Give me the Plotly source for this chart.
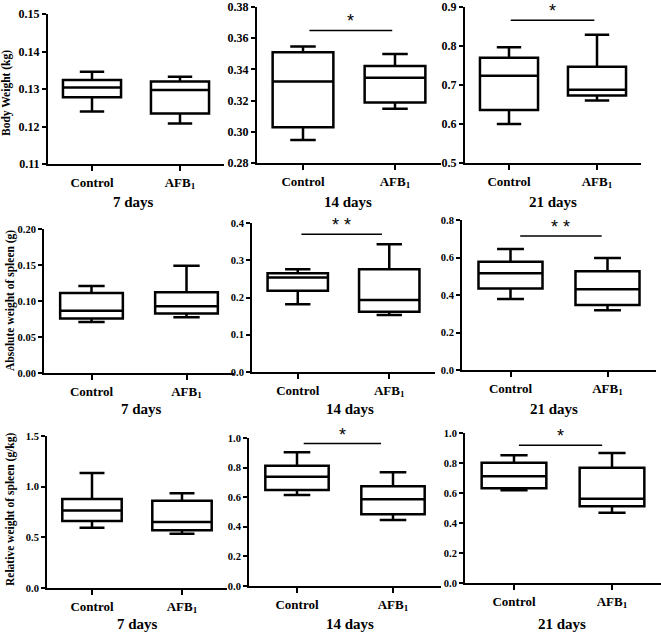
import plotly.graph_objects as go

W, H = 661, 635

groups = ["Control", "AFB<sub>1</sub>"]
days = ["7 days", "14 days", "21 days"]
ytitles = ["Body Weight (kg)", "Absolute weight of spleen (g)", "Relative weight of spleen (g/kg)"]

# Box statistics: one row per day (7, 14, 21), each row = [Control, AFB1]
body_min = [[0.1240, 0.1208], [0.2948, 0.3147], [0.600, 0.660]]
body_q1 = [[0.1278, 0.1235], [0.3029, 0.3188], [0.636, 0.673]]
body_med = [[0.1304, 0.1297], [0.3323, 0.3347], [0.7235, 0.688]]
body_q3 = [[0.1324, 0.1320], [0.3510, 0.3421], [0.770, 0.747]]
body_max = [[0.1346, 0.1333], [0.3546, 0.3499], [0.797, 0.829]]

abs_min = [[0.071, 0.0775], [0.1816, 0.153], [0.379, 0.318]]
abs_q1 = [[0.0756, 0.0826], [0.218, 0.162], [0.434, 0.347]]
abs_med = [[0.0863, 0.0928], [0.2535, 0.193], [0.516, 0.430]]
abs_q3 = [[0.111, 0.112], [0.265, 0.276], [0.578, 0.526]]
abs_max = [[0.121, 0.149], [0.276, 0.343], [0.645, 0.597]]

rel_min = [[0.595, 0.536], [0.615, 0.446], [0.619, 0.469]]
rel_q1 = [[0.661, 0.569], [0.649, 0.484], [0.631, 0.511]]
rel_med = [[0.766, 0.651], [0.738, 0.586], [0.712, 0.562]]
rel_q3 = [[0.878, 0.862], [0.812, 0.674], [0.801, 0.768]]
rel_max = [[1.135, 0.934], [0.903, 0.769], [0.852, 0.867]]

metrics = [
    (body_min, body_q1, body_med, body_q3, body_max),
    (abs_min, abs_q1, abs_med, abs_q3, abs_max),
    (rel_min, rel_q1, rel_med, rel_q3, rel_max),
]

# y axis ranges / tick steps per panel (row-major)
y_ranges = [[0.11, 0.15], [0.28, 0.38], [0.5, 0.9],
            [0.0, 0.2], [0.0, 0.4], [0.0, 0.8],
            [0.0, 1.5], [0.0, 1.0], [0.0, 1.0]]
y_dticks = [0.01, 0.02, 0.1, 0.05, 0.1, 0.2, 0.5, 0.2, 0.2]
y_formats = [".2f", ".2f", ".1f", ".2f", ".1f", ".1f", ".1f", ".1f", ".1f"]

# significance markers (panel index, label, line height, x-extent)
sig_panel = [1, 2, 4, 5, 7, 8]
sig_label = ["*", "*", "* *", "* *", "*", "*"]
sig_y = [0.365, 0.866, 0.370, 0.715, 0.962, 0.918]
sig_x0 = [0.07, 0.02, 0.04, 0.10, 0.07, 0.05]
sig_x1 = [0.97, 0.97, 0.92, 0.94, 0.875, 0.90]

# panel pixel geometry: left, right, top, bottom
geom = [(48, 224, 14, 164), (257, 441, 7, 163), (465, 641, 7, 163),
        (44, 234, 229, 373), (252, 435, 223, 372), (462, 656, 220, 370),
        (47, 227, 436, 588), (249, 441, 438, 586), (465, 661, 433, 583)]
day_label_pos = [(133, 202), (348, 202), (553, 202),
                 (141, 409), (350, 409), (554, 409),
                 (137, 624), (350, 624), (562, 624)]
ytitle_pos = [(7, 93), (10, 301), (10, 510)]
ytick_size = [12, 10.5, 10.5]

FONT = "Liberation Serif"
fig = go.Figure()

for p in range(9):
    r, c = divmod(p, 3)
    mn, q1, md, q3, mx = metrics[r]
    ax = "" if p == 0 else str(p + 1)
    for g in range(2):
        fig.add_trace(go.Box(
            x=[g], q1=[q1[c][g]], median=[md[c][g]], q3=[q3[c][g]],
            lowerfence=[mn[c][g]], upperfence=[mx[c][g]],
            width=0.66, whiskerwidth=0.42, boxpoints=False,
            line=dict(color="black", width=2.5), fillcolor="white",
            xaxis="x" + ax, yaxis="y" + ax, showlegend=False, hoverinfo="skip"))
    L, R, T, B = geom[p]
    fig.layout["xaxis" + ax] = dict(
        domain=[L / W, R / W], anchor="y" + ax, range=[-0.5, 1.5],
        tickvals=[0, 1], ticktext=groups, ticklabeloverflow="allow",
        ticks="outside", ticklen=5, tickwidth=1.5, tickcolor="black",
        showline=True, linecolor="black", linewidth=2, showgrid=False, zeroline=False,
        tickfont=dict(family=FONT, size=13, color="black", weight="bold"))
    fig.layout["yaxis" + ax] = dict(
        domain=[1 - B / H, 1 - T / H], anchor="x" + ax, range=y_ranges[p],
        dtick=y_dticks[p], tick0=0, tickformat=y_formats[p], ticklabeloverflow="allow",
        ticks="outside", ticklen=4, tickwidth=1.5, tickcolor="black",
        showline=True, linecolor="black", linewidth=2, showgrid=False, zeroline=False,
        tickfont=dict(family=FONT, size=ytick_size[r], color="black", weight="bold"))
    dx, dy = day_label_pos[p]
    fig.add_annotation(x=dx / W, y=1 - dy / H, xref="paper", yref="paper",
                       text=days[c], showarrow=False, xanchor="center", yanchor="middle",
                       font=dict(family=FONT, size=15, color="black", weight="bold"))

for i, p in enumerate(sig_panel):
    ax = "" if p == 0 else str(p + 1)
    fig.add_shape(type="line", xref="x" + ax, yref="y" + ax,
                  x0=sig_x0[i], x1=sig_x1[i], y0=sig_y[i], y1=sig_y[i],
                  line=dict(color="black", width=1.5))
    fig.add_annotation(x=(sig_x0[i] + sig_x1[i]) / 2, y=sig_y[i], xref="x" + ax, yref="y" + ax,
                       text=sig_label[i], showarrow=False, xanchor="center", yanchor="bottom",
                       yshift=-3, font=dict(family="Liberation Sans", size=18, color="black"))

for r in range(3):
    tx, ty = ytitle_pos[r]
    fig.add_annotation(x=tx / W, y=1 - ty / H, xref="paper", yref="paper",
                       text=ytitles[r], textangle=-90, showarrow=False,
                       xanchor="center", yanchor="middle",
                       font=dict(family=FONT, size=11.5, color="black", weight="bold"))

fig.update_layout(width=W, height=H,
                  margin=dict(l=0, r=0, t=0, b=0, pad=0, autoexpand=False),
                  plot_bgcolor="white", paper_bgcolor="white")

fig.write_html("out.html", config={"displayModeBar": False},
               post_script="document.body.style.margin='0';document.body.style.overflow='hidden';")
